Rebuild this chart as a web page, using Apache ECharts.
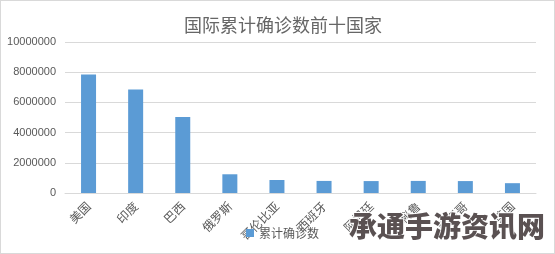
<!DOCTYPE html>
<html><head><meta charset="utf-8">
<script src="https://cdn.jsdelivr.net/npm/echarts@6/dist/echarts.min.js"></script>
<style>html,body{margin:0;padding:0;background:#fff}#c{width:555px;height:254px;box-sizing:border-box;border:1px solid #d9d9d9}</style>
</head><body><div id="c"></div>
<script>
const categories = ['美国','印度','巴西','俄罗斯','哥伦比亚','西班牙','阿根廷','秘鲁','墨西哥','英国'];
const values = [7840000, 6860000, 5030000, 1240000, 860000, 800000, 790000, 800000, 790000, 650000];
const seriesName = '累计确诊数';
const titleText = '国际累计确诊数前十国家';
const watermark = '承通手游资讯网';
const chart = echarts.init(document.getElementById('c'));
chart.setOption({
  animation: false,
  title: {text: titleText, left: 277, textAlign: 'center', top: 10,
    textStyle: {fontSize: 18, fontWeight: 'normal', color: '#666', fontFamily: 'Noto Sans CJK SC'}},
  grid: {left: 64, right: 18, top: 41, bottom: 60, containLabel: false},
  legend: {bottom: 9, left: 240, itemWidth: 8, itemHeight: 8, icon: 'rect', itemGap: 3,
    textStyle: {fontSize: 12, color: '#595959', fontFamily: 'Noto Sans CJK SC'}, data: [seriesName]},
  xAxis: {type: 'category', data: categories,
    axisLine: {lineStyle: {color: '#d9d9d9'}}, axisTick: {show: false},
    axisLabel: {rotate: 45, interval: 0, fontSize: 12, color: '#595959', margin: 11, fontFamily: 'Noto Sans CJK SC'}},
  yAxis: {type: 'value', min: 0, max: 10000000, interval: 2000000,
    axisLine: {show: false}, axisTick: {show: false},
    splitLine: {lineStyle: {color: '#d9d9d9'}},
    axisLabel: {fontSize: 11, color: '#595959', margin: 9, fontFamily: 'Liberation Sans',
      formatter: v => String(v)}},
  series: [{name: seriesName, type: 'bar', data: values, barWidth: 15, itemStyle: {color: '#5b9bd5'}}],
  graphic: [{type: 'text', left: 347, top: 210, z: 100,
    style: {text: watermark, fontSize: 28, fontWeight: 900, fill: '#5a5152', stroke: '#fff', lineWidth: 2,
      fontFamily: 'Noto Sans CJK SC'}}]
});
</script></body></html>
